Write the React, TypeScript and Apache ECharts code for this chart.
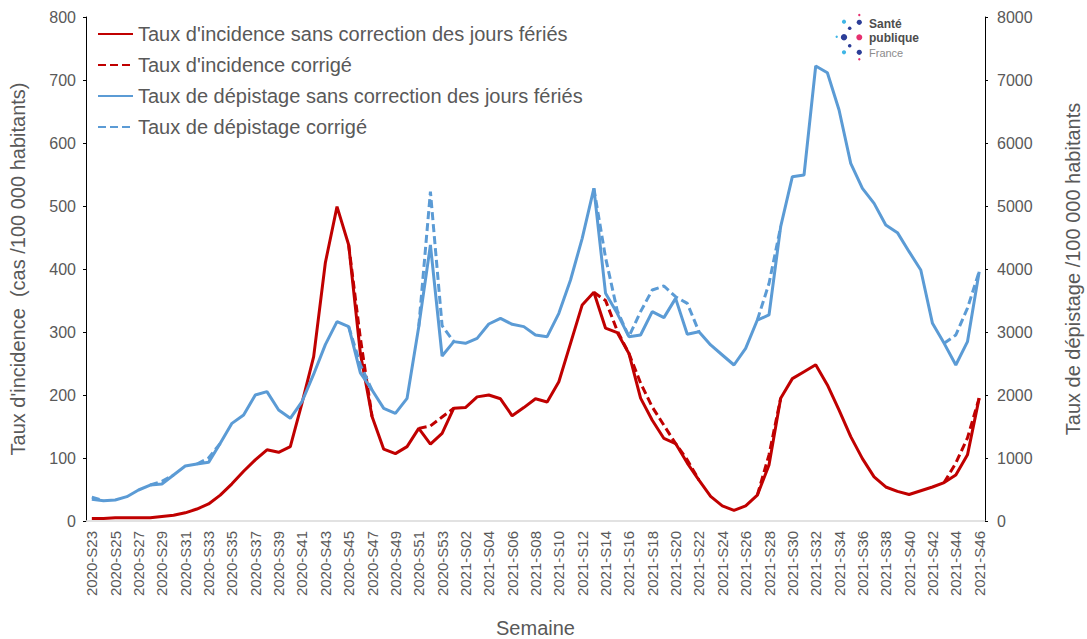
import React, { useEffect, useRef } from "react";
import * as echarts from "echarts";

const FONT = '"Liberation Sans", Arial, sans-serif';

const weeks = [
  "2020-S23", "2020-S24", "2020-S25", "2020-S26", "2020-S27", "2020-S28", "2020-S29", "2020-S30",
  "2020-S31", "2020-S32", "2020-S33", "2020-S34", "2020-S35", "2020-S36", "2020-S37", "2020-S38",
  "2020-S39", "2020-S40", "2020-S41", "2020-S42", "2020-S43", "2020-S44", "2020-S45", "2020-S46",
  "2020-S47", "2020-S48", "2020-S49", "2020-S50", "2020-S51", "2020-S52", "2020-S53",
  "2021-S01", "2021-S02", "2021-S03", "2021-S04", "2021-S05", "2021-S06", "2021-S07", "2021-S08",
  "2021-S09", "2021-S10", "2021-S11", "2021-S12", "2021-S13", "2021-S14", "2021-S15", "2021-S16",
  "2021-S17", "2021-S18", "2021-S19", "2021-S20", "2021-S21", "2021-S22", "2021-S23", "2021-S24",
  "2021-S25", "2021-S26", "2021-S27", "2021-S28", "2021-S29", "2021-S30", "2021-S31", "2021-S32",
  "2021-S33", "2021-S34", "2021-S35", "2021-S36", "2021-S37", "2021-S38", "2021-S39", "2021-S40",
  "2021-S41", "2021-S42", "2021-S43", "2021-S44", "2021-S45", "2021-S46",
];

// Taux d'incidence sans correction (cas /100 000 habitants) - left axis
const incidence = [
  4, 4, 5, 5, 5, 5, 7, 9, 13, 19, 27, 41, 59, 79, 97, 113,
  109, 118, 187, 261, 410, 499, 438, 266, 166, 114, 107, 118, 147, 122, 139,
  179, 180, 197, 200, 194, 167, 180, 194, 189, 221, 282, 343, 363, 306, 299,
  266, 195, 160, 131, 123, 92, 65, 39, 24, 17, 24, 41, 89, 195, 226, 237,
  248, 216, 176, 134, 99, 70, 54, 47, 42, 48, 54, 61, 73, 105, 195,
];

// Taux d'incidence corrigé (only around public holidays)
const incidenceCorrigee = [
  null, null, null, null, null, null, null, null, null, null, null, null, null, null, null, null,
  null, null, null, null, null, null, 438, 290, 166, null, null, null, 147, 151, 165,
  179, null, null, null, null, null, null, null, null, null, null, null, 363, 350, 302,
  266, 219, 181, 152, 123, 97, 65, null, null, null, null, 41, 105, 195, null, null,
  null, null, null, null, null, null, null, null, null, null, null, 61, 92, 132, 195,
];

// Taux de dépistage sans correction (/100 000 habitants) - right axis
const depistage = [
  344, 322, 333, 386, 492, 571, 587, 730, 873, 905, 931, 1233, 1550, 1683, 2000, 2053,
  1762, 1630, 1894, 2330, 2800, 3165, 3085, 2350, 2079, 1788, 1709, 1947, 3085, 4381, 2619,
  2847, 2820, 2899, 3127, 3217, 3122, 3085, 2952, 2926, 3296, 3825, 4487, 5280, 3614, 3296,
  2926, 2952, 3323, 3228, 3534, 2963, 3005, 2794, 2635, 2476, 2741, 3190, 3270, 4672, 5466, 5492,
  7222, 7116, 6524, 5677, 5280, 5042, 4698, 4577, 4275, 3984, 3138, 2820, 2476, 2847, 3958,
];

// Taux de dépistage corrigé (only around public holidays)
const depistageCorrige = [
  380, 322, null, null, null, 571, 630, 730, null, 905, 1000, 1233, null, null, null, null,
  null, null, null, null, null, null, 3085, 2480, 2079, null, null, null, 3085, 5227, 3100,
  2847, null, null, null, null, null, null, null, null, null, null, null, 5280, 4180, 3340,
  2926, 3323, 3667, 3730, 3560, 3455, 3005, null, null, null, null, 3190, 3770, 4672, null, null,
  null, null, null, null, null, null, null, null, null, null, null, 2820, 2952, 3380, 3958,
];

const seriesNames = [
  "Taux d'incidence sans correction des jours fériés",
  "Taux d'incidence corrigé",
  "Taux de dépistage sans correction des jours fériés",
  "Taux de dépistage corrigé",
];

const RED = "#C00000";
const BLUE = "#5B9BD5";
const GREY = "#595959";

const DARK_BLUE = "#2C3E98";
const LIGHT_BLUE = "#3FB6E6";
const PINK = "#E6306F";

const logoDots: [number, number, number, string][] = [
  [859.3, 15, 1.2, PINK],
  [859.3, 22.3, 2.6, DARK_BLUE],
  [844, 21.7, 2.1, LIGHT_BLUE],
  [849.7, 28.3, 1.8, DARK_BLUE],
  [836.7, 36.7, 1.2, LIGHT_BLUE],
  [844, 37.3, 3.2, DARK_BLUE],
  [859.3, 37.3, 3.0, PINK],
  [849.7, 45.7, 1.8, DARK_BLUE],
  [844, 52.3, 2.1, LIGHT_BLUE],
  [859.3, 52.3, 2.6, DARK_BLUE],
  [859.3, 59.3, 1.2, PINK],
];

export default function App() {
  const ref = useRef<HTMLDivElement>(null);

  useEffect(() => {
    const chart = echarts.init(ref.current!, null, { renderer: "svg" });
    const graphic: any[] = logoDots.map(([cx, cy, r, c]) => ({
      type: "circle",
      shape: { cx, cy, r },
      style: { fill: c },
      silent: true,
    }));
    graphic.push(
      {
        type: "text",
        x: 869,
        y: 24,
        style: { text: "Santé", fontFamily: FONT, fontWeight: "bold", fontSize: 12, fill: "#4D4D4D", verticalAlign: "middle" },
      },
      {
        type: "text",
        x: 869,
        y: 38,
        style: { text: "publique", fontFamily: FONT, fontWeight: "bold", fontSize: 12, fill: "#4D4D4D", verticalAlign: "middle" },
      },
      {
        type: "text",
        x: 869,
        y: 52.5,
        style: { text: "France", fontFamily: FONT, fontSize: 11, fill: "#8C8C8C", verticalAlign: "middle" },
      }
    );

    chart.setOption({
      animation: false,
      textStyle: { fontFamily: FONT },
      grid: { left: 86, right: 102, top: 17, bottom: 118, outerBoundsMode: "none", containLabel: false },
      legend: {
        orient: "vertical",
        left: 92,
        top: 19,
        itemWidth: 35,
        itemHeight: 14,
        itemGap: 11,
        itemStyle: { opacity: 0 },
        textStyle: { fontSize: 20, color: GREY, fontFamily: FONT },
        data: seriesNames,
      },
      xAxis: {
        type: "category",
        data: weeks,
        boundaryGap: true,
        axisLine: { lineStyle: { color: "#D9D9D9", width: 1.5 } },
        axisTick: { show: false },
        axisLabel: { rotate: 90, interval: 1, fontSize: 15, color: GREY, margin: 10, fontFamily: FONT },
        name: "Semaine",
        nameLocation: "middle",
        nameGap: 97,
        nameTextStyle: { fontSize: 20, color: GREY, fontFamily: FONT },
      },
      yAxis: [
        {
          type: "value",
          position: "left",
          min: 0,
          max: 800,
          interval: 100,
          splitLine: { show: false },
          axisLine: { show: true, lineStyle: { color: "#000000", width: 1 } },
          axisTick: { show: true, length: 3, lineStyle: { color: "#000000" } },
          axisLabel: { fontSize: 16, color: GREY, margin: 10, fontFamily: FONT, formatter: (v: number) => String(v) },
          name: "Taux d'incidence  (cas /100 000 habitants)",
          nameLocation: "middle",
          nameGap: 58,
          nameTextStyle: { fontSize: 20, color: GREY, fontFamily: FONT },
        },
        {
          type: "value",
          position: "right",
          min: 0,
          max: 8000,
          interval: 1000,
          splitLine: { show: false },
          axisLine: { show: true, lineStyle: { color: "#000000", width: 1 } },
          axisTick: { show: true, length: 3, lineStyle: { color: "#000000" } },
          axisLabel: { fontSize: 16, color: GREY, margin: 12, fontFamily: FONT, formatter: (v: number) => String(v) },
          name: "Taux de dépistage /100 000 habitants",
          nameLocation: "middle",
          nameGap: 78,
          nameTextStyle: { fontSize: 20, color: GREY, fontFamily: FONT },
        },
      ],
      series: [
        {
          name: seriesNames[0],
          type: "line",
          yAxisIndex: 0,
          data: incidence,
          symbol: "none",
          lineStyle: { color: RED, width: 3 },
          itemStyle: { color: RED },
        },
        {
          name: seriesNames[1],
          type: "line",
          yAxisIndex: 0,
          data: incidenceCorrigee,
          symbol: "none",
          connectNulls: false,
          lineStyle: { color: RED, width: 3, type: [8, 4] },
          itemStyle: { color: RED },
        },
        {
          name: seriesNames[2],
          type: "line",
          yAxisIndex: 1,
          data: depistage,
          symbol: "none",
          lineStyle: { color: BLUE, width: 3 },
          itemStyle: { color: BLUE },
        },
        {
          name: seriesNames[3],
          type: "line",
          yAxisIndex: 1,
          data: depistageCorrige,
          symbol: "none",
          connectNulls: false,
          lineStyle: { color: BLUE, width: 3, type: [8, 4] },
          itemStyle: { color: BLUE },
        },
      ],
      graphic,
    });
    return () => chart.dispose();
  }, []);

  return (
    <div
      ref={ref}
      style={{ position: "fixed", left: 0, top: 0, width: 1087, height: 639, background: "#ffffff" }}
    />
  );
}
